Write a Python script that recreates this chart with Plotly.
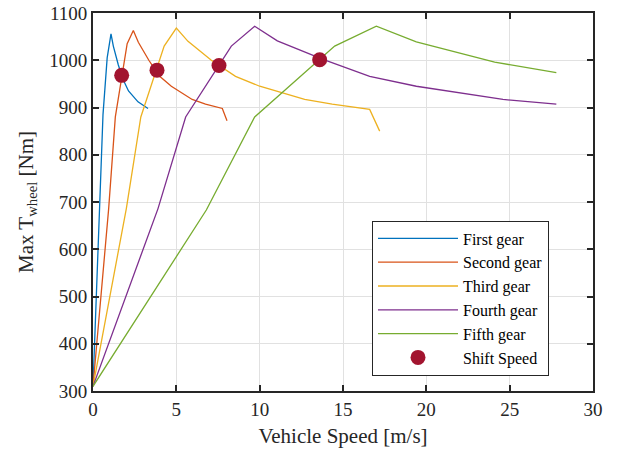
import plotly.graph_objects as go

# ---- data ----
first_x = [0, 0.42, 0.6, 0.85, 1.08, 1.22, 1.52, 1.82, 2.13, 2.7, 3.3]
first_y = [310, 700, 885, 1005, 1056, 1030, 990, 958, 935, 912, 898]

second_x = [0, 0.94, 1.34, 2.05, 2.42, 2.72, 3.35, 4.0, 4.7, 5.95, 6.75, 7.76, 8.04]
second_y = [310, 686, 880, 1035, 1063, 1038, 1000, 966, 945, 917, 907, 898, 872]

third_x = [0, 2.0, 2.87, 4.27, 5.0, 5.7, 7.1, 8.55, 10.0, 12.7, 14.35, 16.6, 17.2]
third_y = [310, 686, 880, 1030, 1068, 1040, 1000, 966, 945, 917, 907, 896, 850]

fourth_x = [0, 3.9, 5.56, 8.3, 9.7, 11.06, 13.8, 16.6, 19.4, 24.6, 27.8]
fourth_y = [310, 686, 880, 1030, 1072, 1041, 1002, 966, 945, 917, 907]

fifth_x = [0, 6.8, 9.7, 14.5, 17.0, 19.4, 24.1, 27.8]
fifth_y = [310, 683, 880, 1030, 1072, 1039, 996, 974]

shift_x = [1.72, 3.84, 7.56, 13.6]
shift_y = [968, 979, 989, 1001]

x_ticks = [0, 5, 10, 15, 20, 25, 30]
y_ticks = [300, 400, 500, 600, 700, 800, 900, 1000, 1100]

series = [
    ("First gear", first_x, first_y, "#0072BD"),
    ("Second gear", second_x, second_y, "#D95319"),
    ("Third gear", third_x, third_y, "#EDB120"),
    ("Fourth gear", fourth_x, fourth_y, "#7E2F8E"),
    ("Fifth gear", fifth_x, fifth_y, "#77AC30"),
]

FONT = "Liberation Serif"

fig = go.Figure()
for name, xs, ys, col in series:
    fig.add_trace(go.Scatter(x=xs, y=ys, mode="lines", name=name,
                             line=dict(color=col, width=1.3)))
fig.add_trace(go.Scatter(x=shift_x, y=shift_y, mode="markers", name="Shift Speed",
                         marker=dict(color="#A2142F", size=15, line=dict(width=0))))

axis_common = dict(
    showgrid=True, gridcolor="#e1e1e1", gridwidth=1,
    showline=True, linecolor="#262626", linewidth=2,
    ticks="inside", ticklen=6, tickwidth=2, tickcolor="#262626",
    mirror="ticks", zeroline=False, automargin=False,
    tickfont=dict(family=FONT, size=19, color="#262626"),
)

fig.update_layout(
    width=619, height=453,
    margin=dict(l=93, r=26, t=13, b=62),
    paper_bgcolor="white", plot_bgcolor="white",
    font=dict(family=FONT, color="#262626"),
    xaxis=dict(range=[0, 30], tickvals=x_ticks,
               title=dict(text="Vehicle Speed [m/s]", font=dict(family=FONT, size=21), standoff=10),
               **axis_common),
    yaxis=dict(range=[300, 1100], tickvals=y_ticks,
               title=dict(text="Max T<sub>wheel</sub> [Nm]", font=dict(family=FONT, size=21), standoff=10),
               **axis_common),
    legend=dict(x=0.558, y=0.246, xanchor="left", yanchor="middle",
                bgcolor="white", bordercolor="#262626", borderwidth=1,
                font=dict(family=FONT, size=16, color="#000000"),
                tracegroupgap=0, itemwidth=80),
    showlegend=True,
)

fig.write_html("out.html", config={"displayModeBar": False},
               post_script="document.body.style.margin='0';")
